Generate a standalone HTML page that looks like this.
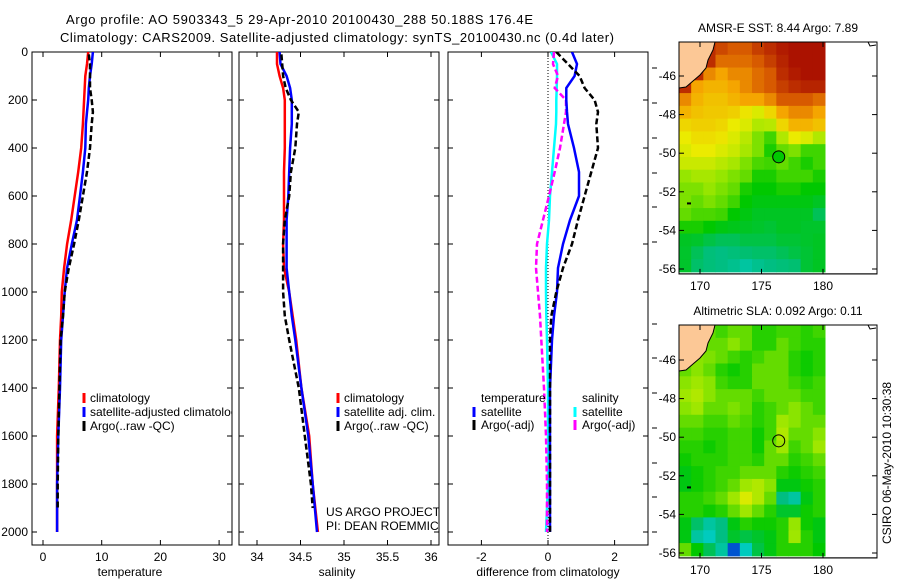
<!DOCTYPE html>
<html><head><meta charset="utf-8"><style>
html,body{margin:0;padding:0;background:#fff}
svg{display:block;font-family:"Liberation Sans",sans-serif}
</style></head><body>
<svg id="fig" width="900" height="580" viewBox="0 0 900 580">
<defs>
<clipPath id="c1"><rect x="32" y="52" width="200" height="493"/></clipPath>
<clipPath id="c2"><rect x="239" y="52" width="200" height="493"/></clipPath>
<clipPath id="c3"><rect x="448" y="52" width="200" height="493"/></clipPath>
</defs>
<text x="66" y="24" font-size="13" textLength="467">Argo profile: AO 5903343_5 29-Apr-2010 20100430_288 50.188S 176.4E</text>
<text x="60" y="42" font-size="13" textLength="554">Climatology: CARS2009. Satellite-adjusted climatology: synTS_20100430.nc (0.4d later)</text>
<g id="g"></g>
</svg>
<script>
// ---- profile data ----
const depthT = [0,50,100,150,200,250,300,400,500,600,700,800,900,1000,1100,1200,1400,1600,1800,2000];
const tempClim = [7.7,7.5,7.2,7.1,7.0,6.9,6.8,6.5,6.0,5.4,4.8,4.1,3.6,3.2,3.1,2.9,2.7,2.4,2.4,2.4];
const tempSat  = [8.5,8.3,8.0,7.8,7.7,7.5,7.3,7.2,6.8,6.3,5.8,4.9,4.1,3.7,3.4,3.1,2.9,2.6,2.4,2.4];
const depthA = [10,50,100,150,200,250,300,400,500,600,700,800,900,1000,1100,1200,1400,1600,1800,1900];
const tempArgo = [7.8,8.0,8.0,8.0,8.3,8.5,8.3,8.0,7.5,6.8,6.1,5.3,4.4,3.7,3.4,3.0,2.8,2.6,2.5,2.5];
const salClim = [34.23,34.23,34.26,34.30,34.32,34.32,34.32,34.32,34.31,34.31,34.31,34.30,34.31,34.37,34.41,34.45,34.51,34.60,34.64,34.70];
const salSat  = [34.26,34.27,34.34,34.38,34.40,34.40,34.40,34.38,34.37,34.36,34.34,34.34,34.34,34.37,34.40,34.44,34.51,34.59,34.64,34.69];
const salArgo = [34.28,34.29,34.30,34.33,34.39,34.48,34.46,34.44,34.39,34.37,34.32,34.30,34.30,34.30,34.32,34.37,34.48,34.55,34.62,34.64];
const dTempSat  = [0.72,0.87,0.8,0.55,0.55,0.57,0.6,0.78,0.93,0.93,0.66,0.45,0.3,0.27,0.18,0.12,0.06,0.06,0.06,0.06];
const dTempArgo = [0.25,0.6,0.95,1.1,1.4,1.5,1.45,1.5,1.3,1.1,0.9,0.72,0.45,0.25,0.1,0.06,0.06,0.06,0.06,0.06];
const dSalSat   = [0.09,0.27,0.27,0.26,0.25,0.25,0.24,0.18,0.12,0.06,0.03,-0.03,-0.06,-0.06,-0.05,-0.03,0,0,0,-0.06];
const dSalArgo  = [0.18,0.15,0.3,0.2,0.54,0.54,0.48,0.36,0.2,0.03,-0.15,-0.33,-0.36,-0.3,-0.24,-0.2,-0.12,-0.06,-0.03,-0.03];
const depthTicks = [0,200,400,600,800,1000,1200,1400,1600,1800,2000];
const tempTicks = [0,10,20,30];
const salTicks = [34,34.5,35,35.5,36];
const salTickLabels = ["34","34.5","35","35.5","36"];
const diffTicks = [-2,0,2];
// ---- map data (values 0..1 on colour scale), 12 cols x 18 rows ----
const sstGrid = [
[0.95,0.95,0.95,0.92,0.9,0.9,0.93,0.95,0.97,0.98,0.98,0.98],
[0.95,0.95,0.95,0.88,0.88,0.88,0.9,0.93,0.96,0.98,0.98,0.98],
[0.95,0.95,0.85,0.82,0.85,0.85,0.88,0.9,0.95,0.97,0.98,0.98],
[0.95,0.82,0.8,0.8,0.82,0.85,0.88,0.9,0.93,0.95,0.96,0.96],
[0.85,0.8,0.78,0.78,0.8,0.82,0.82,0.85,0.9,0.9,0.9,0.88],
[0.8,0.78,0.77,0.77,0.76,0.73,0.7,0.75,0.82,0.85,0.85,0.82],
[0.75,0.76,0.76,0.75,0.72,0.7,0.65,0.66,0.75,0.8,0.8,0.78],
[0.72,0.74,0.74,0.73,0.7,0.66,0.6,0.55,0.65,0.72,0.7,0.65],
[0.7,0.72,0.72,0.7,0.68,0.64,0.6,0.52,0.58,0.6,0.55,0.55],
[0.68,0.68,0.68,0.66,0.64,0.6,0.56,0.55,0.58,0.55,0.52,0.55],
[0.62,0.64,0.64,0.62,0.6,0.58,0.52,0.52,0.55,0.55,0.55,0.52],
[0.6,0.6,0.62,0.6,0.58,0.52,0.5,0.5,0.52,0.52,0.5,0.5],
[0.6,0.58,0.6,0.58,0.55,0.5,0.48,0.48,0.48,0.48,0.48,0.46],
[0.58,0.56,0.56,0.55,0.5,0.48,0.46,0.46,0.46,0.46,0.46,0.4],
[0.52,0.52,0.5,0.48,0.47,0.46,0.45,0.44,0.46,0.46,0.45,0.45],
[0.46,0.45,0.42,0.4,0.4,0.42,0.42,0.42,0.44,0.44,0.45,0.46],
[0.45,0.4,0.36,0.35,0.36,0.37,0.38,0.38,0.4,0.42,0.44,0.46],
[0.45,0.38,0.36,0.35,0.33,0.3,0.33,0.35,0.36,0.37,0.44,0.46]];
const slaGrid = [
[0.58,0.58,0.58,0.55,0.58,0.58,0.53,0.53,0.55,0.55,0.53,0.55],
[0.58,0.58,0.58,0.58,0.61,0.58,0.53,0.53,0.58,0.55,0.53,0.53],
[0.61,0.61,0.6,0.58,0.55,0.53,0.55,0.58,0.58,0.53,0.51,0.53],
[0.58,0.61,0.58,0.53,0.51,0.53,0.58,0.58,0.58,0.53,0.51,0.53],
[0.61,0.63,0.61,0.55,0.53,0.53,0.58,0.58,0.58,0.55,0.53,0.55],
[0.63,0.65,0.61,0.58,0.58,0.58,0.55,0.58,0.58,0.58,0.55,0.55],
[0.61,0.63,0.58,0.58,0.6,0.58,0.53,0.55,0.58,0.61,0.58,0.55],
[0.58,0.58,0.55,0.55,0.58,0.56,0.53,0.55,0.63,0.61,0.58,0.58],
[0.55,0.55,0.53,0.53,0.55,0.55,0.51,0.55,0.65,0.58,0.58,0.61],
[0.53,0.53,0.51,0.53,0.55,0.55,0.51,0.58,0.63,0.55,0.58,0.63],
[0.51,0.53,0.53,0.53,0.55,0.55,0.53,0.58,0.58,0.53,0.55,0.58],
[0.48,0.51,0.53,0.55,0.55,0.58,0.58,0.58,0.53,0.51,0.53,0.55],
[0.48,0.51,0.53,0.55,0.58,0.63,0.65,0.61,0.48,0.48,0.51,0.53],
[0.53,0.53,0.55,0.58,0.63,0.7,0.65,0.58,0.35,0.3,0.48,0.53],
[0.53,0.53,0.51,0.53,0.58,0.63,0.58,0.53,0.45,0.45,0.51,0.53],
[0.48,0.38,0.3,0.35,0.48,0.53,0.51,0.51,0.53,0.62,0.51,0.48],
[0.48,0.3,0.25,0.35,0.45,0.42,0.45,0.48,0.53,0.63,0.53,0.48],
[0.58,0.5,0.4,0.3,0.08,0.25,0.42,0.48,0.53,0.53,0.53,0.5]];
const latTicks = [-46,-48,-50,-52,-54,-56];
const lonTicks = [170,175,180];
const argoLon = 176.4, argoLat = -50.188;

const NS="http://www.w3.org/2000/svg";
const G=document.getElementById('g');
function el(t,a,p){const e=document.createElementNS(NS,t);for(const k in a)e.setAttribute(k,a[k]);(p||G).appendChild(e);return e;}
const yD=d=>52+d*0.24;
const xT=v=>43+v*5.87;
const xS=v=>257+(v-34)*87;
const xDf=v=>548+v*33.3;
function path(xs,ys,fx,stroke,w,dash,clip,name){
  let d='';xs.forEach((v,i)=>{d+=(i?'L':'M')+fx(v).toFixed(1)+','+yD(ys[i]).toFixed(1);});
  const p=el('path',{d:d,fill:'none',stroke:stroke,'stroke-width':w,'clip-path':'url(#'+clip+')'});
  if(dash)p.setAttribute('stroke-dasharray',dash);
  
  
}
function frame(x0,name){
  const r=el('rect',{x:x0,y:52,width:200,height:493,fill:'#fff',stroke:'#000','stroke-width':1});
  
  
  depthTicks.forEach(d=>{const y=yD(d);el('line',{x1:x0,x2:x0+5,y1:y,y2:y,stroke:'#000'});el('line',{x1:x0+195,x2:x0+200,y1:y,y2:y,stroke:'#000'});});
}
function xticks(vals,labels,fx){
  vals.forEach((v,i)=>{const x=fx(v);el('line',{x1:x,x2:x,y1:52,y2:57,stroke:'#000'});el('line',{x1:x,x2:x,y1:540,y2:545,stroke:'#000'});
  const t=el('text',{x:x,y:561,'font-size':12,'text-anchor':'middle'});t.textContent=labels[i];
  
  });
}
function txt(x,y,s,name,anchor,clip,size){const t=el('text',{x:x,y:y,'font-size':size||12});if(anchor)t.setAttribute('text-anchor',anchor);if(clip)t.setAttribute('clip-path','url(#'+clip+')');t.textContent=s;
  
  return t;}
function mark(x,y,c){el('line',{x1:x,x2:x,y1:y-9,y2:y+1,stroke:c,'stroke-width':3});}
// panel 1
frame(32,'temperature-panel');
depthTicks.forEach(d=>txt(28,yD(d)+4,String(d),'y-tick-label','end'));
xticks(tempTicks,tempTicks.map(String),xT);
path(tempClim,depthT,xT,'#f00',2.5,null,'c1','temp-climatology-line');
path(tempSat,depthT,xT,'#00f',2.5,null,'c1','temp-satellite-line');
path(tempArgo,depthA,xT,'#000',2.5,'6,3','c1','temp-argo-line');
mark(84,402,'#f00');txt(90,402,'climatology','legend-climatology',null,'c1');
mark(84,416,'#00f');txt(90,416,'satellite-adjusted climatology','legend-satellite',null,'c1');
mark(84,430,'#000');txt(90,430,'Argo(..raw -QC)','legend-argo',null,'c1');
txt(130,576,'temperature','x-axis-title','middle');
// panel 2
frame(239,'salinity-panel');
xticks(salTicks,salTickLabels,xS);
path(salClim,depthT,xS,'#f00',2.5,null,'c2','sal-climatology-line');
path(salSat,depthT,xS,'#00f',2.5,null,'c2','sal-satellite-line');
path(salArgo,depthA,xS,'#000',2.5,'6,3','c2','sal-argo-line');
mark(338,402,'#f00');txt(344,402,'climatology','legend-climatology',null,'c2');
mark(338,416,'#00f');txt(344,416,'satellite adj. clim.','legend-satellite',null,'c2');
mark(338,430,'#000');txt(344,430,'Argo(..raw -QC)','legend-argo',null,'c2');
txt(326,516,'US ARGO PROJECT','credit-project',null,'c2');
txt(326,530,'PI: DEAN ROEMMICH','credit-pi',null,'c2');
txt(337,576,'salinity','x-axis-title','middle');
// panel 3
frame(448,'difference-panel');
xticks(diffTicks,diffTicks.map(String),xDf);
el('line',{x1:xDf(0),x2:xDf(0),y1:52,y2:545,stroke:'#000','stroke-dasharray':'1,2'});
path(dSalSat,depthT,xDf,'#0ff',2.5,null,'c3','diff-sal-satellite-line');
path(dSalArgo,depthT,xDf,'#f0f',2.5,'6,3','c3','diff-sal-argo-line');
path(dTempSat,depthT,xDf,'#00f',2.5,null,'c3','diff-temp-satellite-line');
path(dTempArgo,depthT,xDf,'#000',2.5,'6,3','c3','diff-temp-argo-line');
txt(481,402,'temperature','legend-temperature-header');
mark(474,416,'#00f');txt(481,416,'satellite','legend-temp-satellite');
mark(474,429,'#000');txt(481,429,'Argo(-adj)','legend-temp-argo');
txt(582,402,'salinity','legend-salinity-header');
mark(575,416,'#0ff');txt(582,416,'satellite','legend-sal-satellite');
mark(575,429,'#f0f');txt(582,429,'Argo(-adj)','legend-sal-argo');
txt(548,576,'difference from climatology','x-axis-title','middle');
[68,103,138,173,207,242,324,358,393,428,463,497,532].forEach(y=>el('line',{x1:652,x2:657,y1:y,y2:y,stroke:'#000'}));
// maps
const stops=[[0,[0,0,200]],[0.2,[0,210,220]],[0.35,[0,190,130]],[0.5,[0,200,0]],[0.62,[150,230,0]],[0.72,[235,235,0]],[0.82,[245,165,0]],[0.9,[215,90,0]],[1,[160,0,0]]];
function col(v){for(let i=1;i<stops.length;i++){if(v<=stops[i][0]){const a=stops[i-1],b=stops[i],f=(v-a[0])/(b[0]-a[0]);return 'rgb('+a[1].map((c,k)=>Math.round(c+(b[1][k]-c)*f)).join(',')+')';}}return 'rgb(160,0,0)';}
const xL=lon=>700+(lon-170)*12.3;
function map(top,grid,title,name,latY){
  const box=el('rect',{x:679,y:top,width:198,height:latY(-56.15)-top+2,fill:'#fff',stroke:'#000'});
  
  
  const rows=grid.length,cols=grid[0].length,w=146/cols,h=(latY(-56.15)-top)/rows;
  grid.forEach((r,i)=>r.forEach((v,j)=>{const c=el('rect',{x:(679+j*w).toFixed(2),y:(top+i*h).toFixed(2),width:(w+0.5).toFixed(2),height:(h+0.5).toFixed(2),fill:col(v)});
    
    }));
  const land=el('path',{d:`M679,${top} L715,${top} L713,${top+8} L708,${top+18} L706,${top+26} L700,${top+33} L693,${top+39} L686,${top+45} L679,${top+46} Z`,fill:'#fcc896',stroke:'#000','stroke-width':1});
  
  
  el('path',{d:`M868,${top} L870,${top+4} L876,${top+3}`,fill:'none',stroke:'#000'});
  el('rect',{x:687,y:latY(-52.55),width:4,height:2,fill:'#000'});
  el('rect',{x:679,y:top,width:198,height:latY(-56.15)-top+2,fill:'none',stroke:'#000'});
  const bot=latY(-56.15)+2;
  latTicks.forEach(l=>{const y=latY(l);el('line',{x1:679,x2:684,y1:y,y2:y,stroke:'#000'});el('line',{x1:872,x2:877,y1:y,y2:y,stroke:'#000'});txt(676,y+4,String(l),'lat-tick-label','end');});
  lonTicks.forEach(l=>{const x=xL(l);el('line',{x1:x,x2:x,y1:top,y2:top+5,stroke:'#000'});el('line',{x1:x,x2:x,y1:bot-5,y2:bot,stroke:'#000'});txt(x,bot+16,String(l),'lon-tick-label','middle');});
  txt(778,top-10,title,name+'-title','middle');
  return {yLat:latY};
}
const m1=map(42,sstGrid,'AMSR-E SST: 8.44 Argo: 7.89','sst-map',lat=>76+(-46-lat)*19.3);
const c1=el('circle',{cx:xL(argoLon),cy:m1.yLat(argoLat),r:6,fill:'#00c800',stroke:'#000'});


const m2=map(325,slaGrid,'Altimetric SLA: 0.092 Argo: 0.11','sla-map',lat=>360+(-46-lat)*19.3);
const c2=el('circle',{cx:xL(argoLon),cy:m2.yLat(argoLat),r:6,fill:'none',stroke:'#000'});


const cs=txt(0,0,'CSIRO 06-May-2010 10:30:38','timestamp','middle');
cs.setAttribute('transform','translate(891,463) rotate(-90)');
</script>
</body></html>
